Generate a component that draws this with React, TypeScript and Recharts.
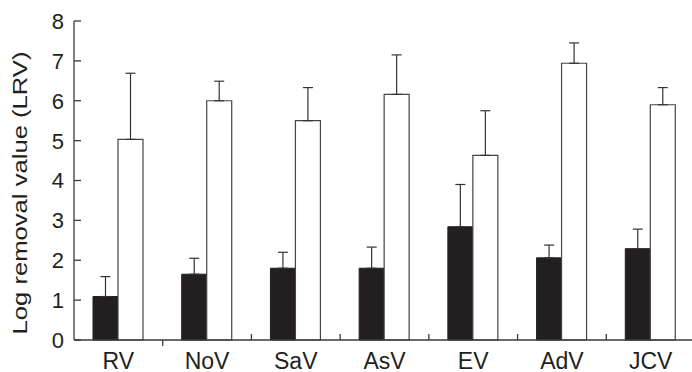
import React from 'react';
import { BarChart, Bar, XAxis, YAxis, ErrorBar } from 'recharts';

const categories = ['RV', 'NoV', 'SaV', 'AsV', 'EV', 'AdV', 'JCV'];
const blackValues = [1.09, 1.65, 1.8, 1.8, 2.84, 2.06, 2.29];
const blackUpper = [1.59, 2.05, 2.2, 2.33, 3.9, 2.38, 2.78];
const whiteValues = [5.03, 6.0, 5.5, 6.16, 4.63, 6.94, 5.9];
const whiteUpper = [6.69, 6.49, 6.33, 7.15, 5.75, 7.45, 6.33];
const yTicks = [0, 1, 2, 3, 4, 5, 6, 7, 8];

const data = categories.map((c, i) => ({
  name: c,
  black: blackValues[i],
  white: whiteValues[i],
  blackErr: [0, +(blackUpper[i] - blackValues[i]).toFixed(2)],
  whiteErr: [0, +(whiteUpper[i] - whiteValues[i]).toFixed(2)],
}));

const W = 692;
const H = 372;
const Y_AXIS_W = 74;
const MARGIN_RIGHT = -3;
const HALF_BAND = (W - Y_AXIS_W - MARGIN_RIGHT) / categories.length / 2;
const FONT = 'Liberation Sans, Arial, Helvetica, sans-serif';
const INK = '#231f20';
const AXIS = '#3a3a3a';

const YTick = (props: any) => {
  const { x, y, payload } = props;
  return (
    <g>
      <line x1={x + 10} x2={x + 17} y1={y} y2={y} stroke={AXIS} strokeWidth={1.3} />
      <text x={x} y={y} dy="0.36em" textAnchor="end" fontSize={22} fontFamily={FONT} fill={INK}>
        {payload.value}
      </text>
    </g>
  );
};

const XTick = (props: any) => {
  const { x, y, payload, index } = props;
  const axisY = y - 13;
  const bx = x + HALF_BAND;
  const down = index === 0;
  return (
    <g>
      {index < categories.length - 1 && (
        <line x1={bx} x2={bx} y1={axisY} y2={down ? axisY + 6 : axisY - 6} stroke={AXIS} strokeWidth={1.3} />
      )}
      <text x={x} y={y} dy="0.71em" textAnchor="middle" fontSize={23} fontFamily={FONT} fill={INK}>
        {payload.value}
      </text>
    </g>
  );
};

const YLabel = () => (
  <text
    x={27}
    y={193}
    transform="rotate(-90, 27, 193)"
    textAnchor="middle"
    fontSize={19.5}
    fontFamily={FONT}
    fill={INK}
    textLength={283}
    lengthAdjust="spacingAndGlyphs"
  >
    Log removal value (LRV)
  </text>
);

export default function App() {
  return (
    <div style={{ position: 'absolute', left: 0, top: 0, background: '#fff' }}>
      <BarChart
        width={W}
        height={H}
        data={data}
        margin={{ top: 21, right: MARGIN_RIGHT, bottom: 0, left: 0 }}
        barGap={0}
        barSize={25}
      >
        <XAxis
          dataKey="name"
          height={32}
          tickLine={false}
          tickSize={0}
          tickMargin={13}
          tick={<XTick />}
          interval={0}
          stroke={AXIS}
          strokeWidth={1.3}
        />
        <YAxis
          width={Y_AXIS_W}
          domain={[0, 8]}
          ticks={yTicks}
          interval={0}
          tickLine={false}
          tickSize={0}
          tickMargin={10}
          tick={<YTick />}
          stroke={AXIS}
          strokeWidth={1.3}
          label={{ content: () => <YLabel /> }}
        />
        <Bar dataKey="black" fill={INK} stroke={INK} strokeWidth={1} isAnimationActive={false}>
          <ErrorBar dataKey="blackErr" width={5} stroke="#333" strokeWidth={1.2} direction="y" />
        </Bar>
        <Bar dataKey="white" fill="#ffffff" stroke="#444" strokeWidth={1.2} isAnimationActive={false}>
          <ErrorBar dataKey="whiteErr" width={5} stroke="#333" strokeWidth={1.2} direction="y" />
        </Bar>
      </BarChart>
    </div>
  );
}
